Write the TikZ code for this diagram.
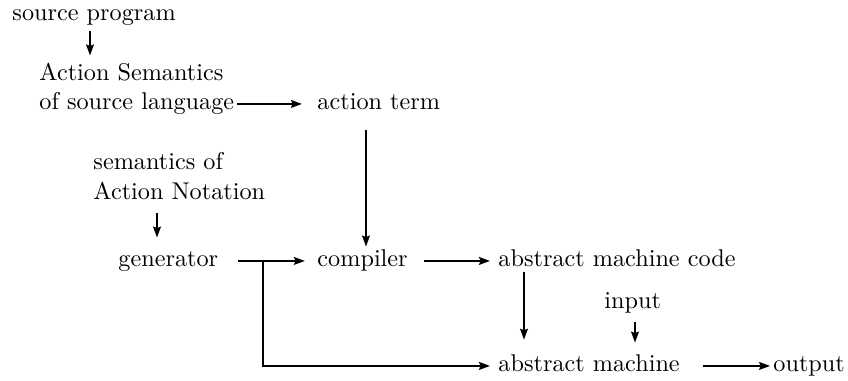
\documentclass[tikz,border=0pt]{standalone}
\usetikzlibrary{arrows.meta}
\begin{document}
\begin{tikzpicture}[x=0.4127pt,y=-0.4127pt,
  lbl/.style={inner sep=0pt,anchor=base west,text height=6.94pt,text depth=1.94pt},
  arr/.style={line width=0.8pt,-{Stealth[length=4.5pt,width=3.2pt,inset=0.6pt]}}]
\useasboundingbox (0,0) rectangle (848,381);

% texts
\node[lbl] (src)  at (12,21)   {source program};
\node[lbl] (asem) at (39,81)   {Action Semantics};
\node[lbl] (osl)  at (39,110)  {of source language};
\node[lbl] (at)   at (317,110) {action term};
\node[lbl] (semof) at (93,170) {semantics of};
\node[lbl] (anot) at (93,200)  {Action Notation};
\node[lbl] (gen)  at (118,267) {generator};
\node[lbl] (comp) at (317,267) {compiler};
\node[lbl] (amc)  at (498,267) {abstract machine code};
\node[lbl] (inp)  at (604,309) {input};
\node[lbl] (am)   at (498,372) {abstract machine};
\node[lbl] (out)  at (773,372) {output};

% connectors
\draw[arr,shorten <=1.8pt,shorten >=3.4pt] (src.south -| 90,0) -- (asem.north -| 90,0);
\draw[arr,shorten <=0.8pt,shorten >=6.2pt] (osl.east) -- (osl.east -| at.west);
\draw[arr,shorten <=6.2pt,shorten >=1.3pt] (at.south -| 366,0) -- (comp.north -| 366,0);
\draw[arr,shorten <=3.4pt,shorten >=5pt] (anot.south -| 157,0) -- (gen.north -| 157,0);
\draw[arr,shorten <=8pt,shorten >=5pt] (gen.east) -- (gen.east -| comp.west);
\draw[arr,shorten <=6.6pt,shorten >=3.3pt] (comp.east) -- (comp.east -| amc.west);
\draw[arr,shorten >=3.3pt] (gen.east -| 263,0) |- (am.west);
\draw[arr,shorten >=6.2pt] (amc.south -| 524,0) -- (am.north -| 524,0);
\draw[arr,shorten <=3.4pt,shorten >=5pt] (inp.south -| 635,0) -- (am.north -| 635,0);
\draw[arr,shorten <=9.2pt,shorten >=1.2pt] (am.east) -- (am.east -| out.west);
\end{tikzpicture}
\end{document}
